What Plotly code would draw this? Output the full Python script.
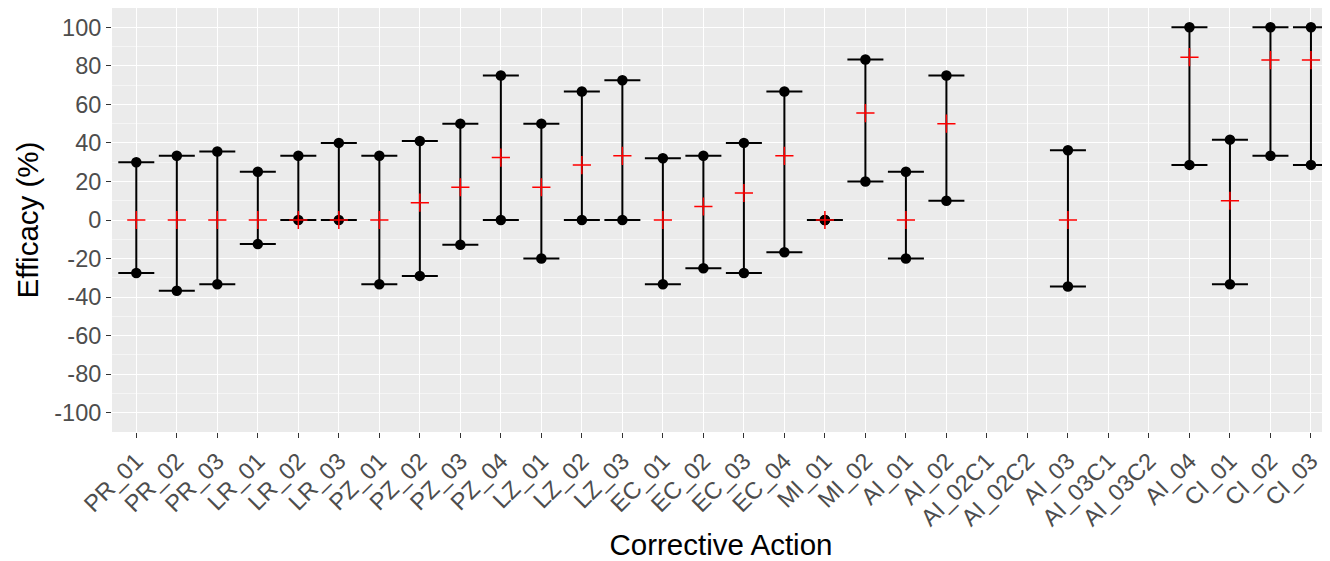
import plotly.graph_objects as go

categories = ["PR_01", "PR_02", "PR_03", "LR_01", "LR_02", "LR_03",
              "PZ_01", "PZ_02", "PZ_03", "PZ_04", "LZ_01", "LZ_02", "LZ_03",
              "EC_01", "EC_02", "EC_03", "EC_04", "MI_01", "MI_02",
              "AI_01", "AI_02", "AI_02C1", "AI_02C2", "AI_03", "AI_03C1", "AI_03C2",
              "AI_04", "CI_01", "CI_02", "CI_03"]

low_values = [-27.5, -36.7, -33.3, -12.5, 0, 0,
              -33.3, -29, -12.8, 0, -20, 0, 0,
              -33.3, -25, -27.5, -16.7, 0, 20,
              -20, 10, None, None, -34.5, None, None,
              28.6, -33.3, 33.3, 28.6]

mean_values = [0, 0, 0, 0, 0, 0,
               0, 9, 17, 32.4, 17, 28.5, 33.3,
               0, 7, 14, 33.3, 0, 55.5,
               0, 50, None, None, 0, None, None,
               84.5, 10, 83, 83]

high_values = [30, 33.3, 35.5, 25, 33.3, 40,
               33.3, 41, 50, 75, 50, 66.7, 72.5,
               32, 33.3, 40, 66.7, 0, 83.3,
               25, 75, None, None, 36.2, None, None,
               100, 41.7, 100, 100]

y_ticks = [100, 80, 60, 40, 20, 0, -20, -40, -60, -80, -100]

err_plus = [None if (h is None or m is None) else h - m for h, m in zip(high_values, mean_values)]
err_minus = [None if (l is None or m is None) else m - l for l, m in zip(low_values, mean_values)]

fig = go.Figure()

# error bars (vertical line + caps)
fig.add_trace(go.Scatter(
    x=categories, y=mean_values, mode="markers",
    marker=dict(size=1, color="rgba(0,0,0,0)"),
    error_y=dict(type="data", symmetric=False, array=err_plus, arrayminus=err_minus,
                 color="black", thickness=2, width=18),
    showlegend=False, hoverinfo="skip",
))

# min / max dots
fig.add_trace(go.Scatter(x=categories, y=low_values, mode="markers",
                         marker=dict(size=10.5, color="black"), showlegend=False))
fig.add_trace(go.Scatter(x=categories, y=high_values, mode="markers",
                         marker=dict(size=10.5, color="black"), showlegend=False))

# mean crosses
fig.add_trace(go.Scatter(x=categories, y=mean_values, mode="markers",
                         marker=dict(symbol="cross-thin", size=13,
                                     line=dict(color="red", width=1.5), color="red"),
                         showlegend=False))

font_family = "Liberation Sans, Arial, sans-serif"
tick_size = 23.5
title_size = 29.5

fig.update_layout(
    width=1322, height=553,
    margin=dict(l=104, r=0, t=0, b=129),
    paper_bgcolor="white",
    plot_bgcolor="#EBEBEB",
    font=dict(family=font_family, size=tick_size, color="#4D4D4D"),
    showlegend=False,
)

fig.update_xaxes(
    type="category", categoryorder="array", categoryarray=categories,
    range=[-0.6, 29.47],
    automargin=False,
    showgrid=True, gridcolor="white", gridwidth=1.4,
    zeroline=False, showline=False,
    ticks="outside", ticklen=5, tickwidth=1.4, tickcolor="#333333",
    tickangle=-45,
    tickfont=dict(family=font_family, size=tick_size, color="#4D4D4D"),
    title=dict(text="Corrective Action", font=dict(family=font_family, size=title_size, color="black"),
               standoff=11),
)

fig.update_yaxes(
    range=[-110, 110],
    automargin=False,
    tickvals=y_ticks, ticktext=[str(v) for v in y_ticks],
    showgrid=True, gridcolor="white", gridwidth=1.4,
    minor=dict(tick0=10, dtick=20, showgrid=True, gridcolor="#F5F5F5", gridwidth=0.7),
    zeroline=False, showline=False,
    ticks="outside", ticklen=5, tickwidth=1.4, tickcolor="#333333",
    tickfont=dict(family=font_family, size=tick_size, color="#4D4D4D"),
    title=dict(text="Efficacy (%)", font=dict(family=font_family, size=title_size, color="black"),
               standoff=6),
)

fig.write_html("out.html")
